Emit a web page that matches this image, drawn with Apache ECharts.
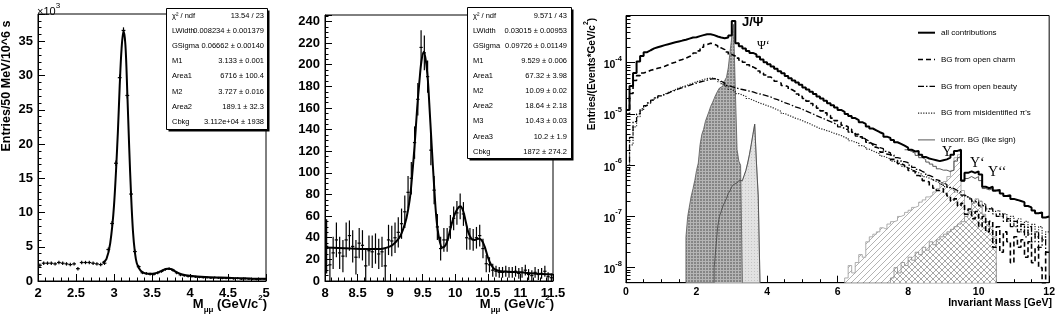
<!DOCTYPE html>
<html>
<head>
<meta charset="utf-8">
<script src="https://cdn.jsdelivr.net/npm/echarts@6.0.0/dist/echarts.min.js"></script>
<style>
html,body{margin:0;padding:0;background:#fff;}
#chart{width:1058px;height:318px;}
</style>
</head>
<body>
<div id="chart"></div>
<script>
// ================= DATA =================
// ---- Panel 1: J/psi region, 50 MeV bins from 2.0 GeV (values in thousands) ----
const p1BinStart = 2.0, p1BinWidth = 0.05;
const p1Counts = [2.3,2.6,2.6,2.6,2.5,2.7,2.6,2.5,2.4,2.5,
  1.8,2.7,2.7,2.7,2.6,2.5,2.4,2.6,4.6,8.4,
  17.2,29.7,36.6,27.1,12.7,4.3,2.1,1.2,1.1,1.0,
  1.0,1.2,1.4,1.7,1.8,1.6,1.2,0.9,0.8,0.7,
  0.65,0.6,0.55,0.5,0.5,0.45,0.5,0.45,0.4,0.4,
  0.4,0.35,0.4,0.3,0.35,0.3,0.3,0.25,0.3,0.3];
const p1Errors = [0.25,0.25,0.25,0.25,0.25,0.25,0.25,0.25,0.25,0.25,
  0.25,0.25,0.25,0.25,0.25,0.25,0.25,0.25,0.3,0.35,
  0.4,0.45,0.45,0.45,0.4,0.3,0.25,0.2,0.2,0.2,
  0.2,0.2,0.2,0.2,0.2,0.2,0.2,0.2,0.18,0.18,
  0.15,0.15,0.15,0.15,0.15,0.15,0.15,0.15,0.15,0.15,
  0.15,0.15,0.15,0.15,0.15,0.15,0.15,0.15,0.15,0.15];
const p1FitMass = [2.85,2.9,2.95,3.0,3.05,3.075,3.1,3.125,3.15,3.175,3.2,3.225,3.25,3.275,3.3,3.35,3.4,3.45,3.5,3.55,3.6,3.65,3.7,3.75,3.8,3.85,3.9,4.0,4.2,4.4,4.6,4.8,5.0];
const p1FitValues = [2.65,3.2,5.5,11.0,21.5,28.5,34.0,36.5,34.5,27.5,19.5,12.5,7.2,4.2,2.6,1.5,1.15,1.05,1.05,1.15,1.35,1.6,1.8,1.75,1.45,1.15,0.95,0.78,0.6,0.5,0.42,0.36,0.32];
const p1Stats = [["χ² / ndf","13.54 / 23"],["LWidth","0.008234 ± 0.001379"],["GSigma","0.06662 ± 0.00140"],["M1","3.133 ± 0.001"],["Area1","6716 ± 100.4"],["M2","3.727 ± 0.016"],["Area2","189.1 ± 32.3"],["Cbkg","3.112e+04 ± 1938"]];

// ---- Panel 2: Upsilon region, 50 MeV bins from 8.0 GeV ----
const p2BinStart = 8.0, p2BinWidth = 0.05;
const p2Counts = [32,15,26,38,26,23,38,42,32,22,
  35,33,14,28,27,30,25,27,14,38,
  37,40,45,53,64,82,95,128,168,216,
  211,189,121,84,50,30,38,38,50,58,
  63,69,62,40,39,38,40,42,30,16,
  15,10,9,8,8,9,8,8,9,7,
  8,10,6,5,8,6,7,9,4,3];
const p2Errors = [25,16,15,16,15,15,16,14,15,16,
  14,14,15,14,15,14,14,14,16,14,
  14,14,14,14,15,15,15,15,15,16,
  16,15,14,13,12,11,11,11,11,11,
  11,12,11,11,10,10,10,10,9,8,
  7,6,5,5,5,5,5,5,5,5,
  5,5,5,5,5,5,5,5,4,4];
const p2FitMass = [8.0,8.2,8.4,8.6,8.8,8.9,9.0,9.05,9.1,9.15,9.2,9.25,9.3,9.33,9.375,9.415,9.45,9.48,9.517,9.55,9.58,9.6,9.635,9.675,9.71,9.75,9.8,9.85,9.9,9.95,10.0,10.05,10.08,10.12,10.16,10.2,10.25,10.3,10.35,10.4,10.45,10.5,10.55,10.6,10.7,10.8,11.0,11.2,11.5];
const p2FitValues = [31,30.5,30,29.5,29.5,30,32,34,37,41,48,58,75,92,125,160,185,203,212,203,185,165,128,88,58,40,31,33,42,54,63,68,69,65,55,45,39,38,39,38,32,22,15,11,9,8.5,8,7,6];
const p2Stats = [["χ² / ndf","9.571 / 43"],["LWidth","0.03015 ± 0.00953"],["GSigma","0.09726 ± 0.01149"],["M1","9.529 ± 0.006"],["Area1","67.32 ± 3.98"],["M2","10.09 ± 0.02"],["Area2","18.64 ± 2.18"],["M3","10.43 ± 0.03"],["Area3","10.2 ± 1.9"],["Cbkg","1872 ± 274.2"]];

// ---- Panel 3: simulated invariant mass spectrum, 100 MeV bins from 0 ----
const p3BinStart = 0, p3BinWidth = 0.1;
const allContributions = [1.2e-5,3.5e-5,6.3e-5,1.05e-4,1.35e-4,1.6e-4,1.75e-4,1.9e-4,2.0e-4,2.1e-4,
  2.2e-4,2.3e-4,2.4e-4,2.5e-4,2.6e-4,2.7e-4,2.8e-4,2.95e-4,3.1e-4,3.15e-4,
  3.3e-4,3.45e-4,3.6e-4,3.6e-4,3.45e-4,3.25e-4,3.1e-4,3.0e-4,3.1e-4,3.4e-4,
  6.5e-4,2.4e-4,2.1e-4,1.9e-4,1.7e-4,1.55e-4,1.45e-4,1.3e-4,1.15e-4,1.02e-4,
  9.3e-5,8.4e-5,7.6e-5,6.8e-5,6.2e-5,5.5e-5,5.0e-5,4.5e-5,4.1e-5,3.7e-5,
  3.3e-5,3.0e-5,2.7e-5,2.45e-5,2.2e-5,2.0e-5,1.8e-5,1.62e-5,1.47e-5,1.33e-5,
  1.2e-5,1.1e-5,1.0e-5,9.1e-6,8.3e-6,7.6e-6,6.9e-6,6.4e-6,5.7e-6,5.2e-6,
  4.8e-6,4.4e-6,4.1e-6,3.6e-6,3.4e-6,3.1e-6,2.8e-6,2.6e-6,2.4e-6,2.2e-6,
  2.0e-6,1.85e-6,1.9e-6,1.6e-6,1.45e-6,1.35e-6,1.3e-6,1.25e-6,1.2e-6,1.25e-6,
  1.3e-6,1.4e-6,1.6e-6,1.9e-6,2.0e-6,5.0e-7,7.1e-7,7.6e-7,7.1e-7,7.6e-7,
  6.6e-7,3.8e-7,3.55e-7,3.8e-7,3.2e-7,3.3e-7,2.8e-7,2.5e-7,2.6e-7,2.2e-7,
  2.1e-7,2.0e-7,1.9e-7,1.6e-7,1.5e-7,1.3e-7,1.15e-7,1.2e-7,9.5e-8,1.0e-7];
const bgOpenCharm = [1.0e-5,2.5e-5,4.5e-5,5.6e-5,6.3e-5,6.6e-5,7.1e-5,7.4e-5,7.8e-5,8.1e-5,
  8.5e-5,9.1e-5,9.8e-5,1.02e-4,1.1e-4,1.15e-4,1.23e-4,1.32e-4,1.41e-4,1.55e-4,
  1.7e-4,2.0e-4,2.25e-4,2.4e-4,2.3e-4,2.15e-4,1.95e-4,1.8e-4,1.62e-4,1.45e-4,
  1.35e-4,1.23e-4,1.12e-4,1.02e-4,9.1e-5,8.3e-5,7.6e-5,6.9e-5,6.3e-5,5.75e-5,
  5.25e-5,4.8e-5,4.35e-5,4.0e-5,3.6e-5,3.4e-5,3.0e-5,2.75e-5,2.45e-5,2.2e-5,
  2.0e-5,1.78e-5,1.6e-5,1.45e-5,1.3e-5,1.15e-5,1.05e-5,9.3e-6,8.3e-6,7.4e-6,
  6.8e-6,6.0e-6,5.6e-6,5.0e-6,4.4e-6,4.0e-6,3.6e-6,3.2e-6,2.8e-6,2.6e-6,
  2.25e-6,2.1e-6,1.8e-6,1.65e-6,1.6e-6,1.3e-6,1.25e-6,1.07e-6,1.0e-6,8.9e-7,
  7.9e-7,7.6e-7,6.3e-7,6.0e-7,5.0e-7,4.7e-7,4.0e-7,3.55e-7,3.2e-7,3.5e-7,
  2.8e-7,2.5e-7,2.0e-7,2.2e-7,1.6e-7,1.8e-7,1.1e-7,1.4e-7,9.0e-8,1.25e-7,
  6.3e-8,1.0e-7,5.0e-8,8.0e-8,2.5e-8,6.3e-8,2.0e-8,5.0e-8,3.2e-8,1.25e-8,
  4.0e-8,2.5e-8,3.5e-8,1.6e-8,3.2e-8,1.25e-8,2.5e-8,1.0e-8,5.0e-9,2.0e-8];
const bgOpenBeauty = [8.0e-7,3.5e-6,7.1e-6,1.0e-5,1.26e-5,1.45e-5,1.65e-5,1.86e-5,2.05e-5,2.25e-5,
  2.4e-5,2.55e-5,2.75e-5,2.9e-5,3.1e-5,3.25e-5,3.4e-5,3.6e-5,3.8e-5,4.0e-5,
  4.2e-5,4.35e-5,4.55e-5,4.8e-5,4.9e-5,4.7e-5,4.35e-5,4.0e-5,3.6e-5,3.4e-5,
  3.25e-5,3.1e-5,3.0e-5,2.9e-5,2.8e-5,2.7e-5,2.55e-5,2.45e-5,2.35e-5,2.25e-5,
  2.15e-5,2.0e-5,1.9e-5,1.78e-5,1.66e-5,1.58e-5,1.48e-5,1.38e-5,1.32e-5,1.23e-5,
  1.15e-5,1.07e-5,1.0e-5,9.3e-6,8.7e-6,8.1e-6,7.6e-6,7.1e-6,6.6e-6,6.2e-6,
  5.6e-6,5.2e-6,4.9e-6,4.4e-6,4.2e-6,3.7e-6,3.5e-6,3.2e-6,2.95e-6,2.6e-6,
  2.5e-6,2.2e-6,2.1e-6,1.86e-6,1.74e-6,1.58e-6,1.41e-6,1.35e-6,1.17e-6,1.12e-6,
  1.0e-6,9.1e-7,8.3e-7,7.6e-7,7.1e-7,6.3e-7,5.9e-7,5.2e-7,5.0e-7,4.5e-7,
  4.2e-7,3.7e-7,3.5e-7,3.2e-7,3.0e-7,2.6e-7,2.5e-7,2.2e-7,2.0e-7,1.86e-7,
  1.6e-7,1.66e-7,1.26e-7,1.4e-7,1.12e-7,1.0e-7,1.12e-7,8.0e-8,9.0e-8,6.3e-8,
  8.0e-8,5.0e-8,7.0e-8,4.0e-8,6.3e-8,3.2e-8,5.0e-8,2.5e-8,4.0e-8,2.0e-8];
const bgMisidPions = [1.0e-6,2.5e-6,5.6e-6,8.9e-6,1.17e-5,1.41e-5,1.62e-5,1.86e-5,2.05e-5,2.25e-5,
  2.45e-5,2.65e-5,2.8e-5,3.0e-5,3.25e-5,3.4e-5,3.55e-5,3.8e-5,4.0e-5,4.25e-5,
  4.45e-5,4.7e-5,4.9e-5,5.0e-5,5.0e-5,4.7e-5,4.25e-5,3.8e-5,3.4e-5,3.0e-5,
  2.75e-5,2.5e-5,2.35e-5,2.2e-5,2.0e-5,1.86e-5,1.74e-5,1.62e-5,1.55e-5,1.45e-5,
  1.38e-5,1.29e-5,1.2e-5,1.12e-5,1.02e-5,9.5e-6,8.9e-6,8.3e-6,7.9e-6,7.4e-6,
  6.9e-6,6.5e-6,6.0e-6,5.6e-6,5.2e-6,5.0e-6,4.7e-6,4.5e-6,4.2e-6,4.0e-6,
  3.8e-6,3.5e-6,3.3e-6,3.0e-6,2.8e-6,2.7e-6,2.4e-6,2.3e-6,2.05e-6,1.9e-6,
  1.78e-6,1.66e-6,1.5e-6,1.41e-6,1.32e-6,1.2e-6,1.12e-6,1.07e-6,9.5e-7,8.9e-7,
  8.3e-7,7.6e-7,7.1e-7,6.6e-7,6.0e-7,5.6e-7,5.2e-7,4.8e-7,4.6e-7,4.2e-7,
  3.8e-7,3.6e-7,3.3e-7,3.0e-7,2.8e-7,2.5e-7,2.4e-7,2.25e-7,1.9e-7,2.0e-7,
  1.66e-7,1.8e-7,1.4e-7,1.5e-7,1.26e-7,1.32e-7,1.0e-7,1.12e-7,8.0e-8,1.0e-7,
  6.3e-8,9.0e-8,5.0e-8,8.0e-8,4.5e-8,7.0e-8,4.0e-8,6.3e-8,3.5e-8,5.0e-8];
const uncorrStart = 7.9;
const uncorrLikeSign = [2.0e-6,1.85e-6,1.7e-6,1.55e-6,1.4e-6,1.3e-6,1.15e-6,1.05e-6,9.5e-7,8.5e-7,
  8.0e-7,8.0e-7,7.5e-7,8.0e-7,1.2e-6,1.4e-6,4.8e-7,5.5e-7,6.0e-7,5.5e-7,
  6.0e-7,5.0e-7,3.5e-7,3.3e-7,3.5e-7,3.1e-7];
const fineBinWidth = 0.05;
const jpsiStart = 1.7;
const jpsiSignal = [4.0e-8,1.0e-7,1.6e-7,2.5e-7,3.5e-7,5.0e-7,7.9e-7,1.1e-6,2.5e-6,4.0e-6,
  5.0e-6,7.1e-6,8.9e-6,1.1e-5,1.4e-5,1.65e-5,2.0e-5,2.4e-5,2.8e-5,3.2e-5,
  3.5e-5,4.0e-5,4.5e-5,5.2e-5,7.9e-5,1.6e-4,3.2e-4,5.6e-4,3.0e-5,2.0e-6,
  1.2e-6,1.0e-6];
const psi2Start = 2.5;
const psi2Signal = [1.0e-8,2.5e-8,6.3e-8,1.0e-7,1.26e-7,1.6e-7,1.9e-7,2.25e-7,2.8e-7,3.2e-7,
  3.8e-7,4.2e-7,4.5e-7,4.8e-7,5.0e-7,5.0e-7,5.2e-7,6.3e-7,7.9e-7,1.1e-6,
  1.6e-6,2.5e-6,4.0e-6,6.3e-6,1.1e-6,2.5e-7];
const ups1Start = 6.2;
const ups1Signal = [6.3e-9,1.1e-8,7.9e-9,1.26e-8,1.8e-8,1.6e-8,3.2e-8,4.0e-8,4.5e-8,5.0e-8,
  6.0e-8,5.6e-8,7.1e-8,7.9e-8,8.3e-8,1.0e-7,1.07e-7,1.2e-7,1.32e-7,1.5e-7,
  1.6e-7,1.9e-7,2.1e-7,2.4e-7,2.6e-7,3.0e-7,3.5e-7,4.2e-7,4.8e-7,6.0e-7,
  7.9e-7,1.4e-6,1.6e-6,3.2e-7,1.0e-7,6.3e-8,5.0e-8,4.0e-8,3.2e-8,2.5e-8,
  2.0e-8,1.6e-8,1.26e-8];
const ups23Start = 7.5;
const ups23Signal = [6.3e-9,1.0e-8,7.9e-9,1.26e-8,1.1e-8,1.6e-8,1.4e-8,2.0e-8,1.8e-8,2.5e-8,
  2.2e-8,3.2e-8,2.8e-8,3.5e-8,4.0e-8,4.5e-8,5.0e-8,5.6e-8,6.3e-8,7.1e-8,
  7.9e-8,1.0e-7,1.26e-7,1.8e-7,2.2e-7,2.0e-7,1.1e-7,7.9e-8,6.3e-8,4.0e-8];
const p3Decades = [1e-8,1e-7,1e-6,1e-5,1e-4];
const p3LegendLabels = ["all contributions","BG from open charm","BG from open beauty","BG from misidentified π's","uncorr. BG (like sign)"];

// ================= LAYOUT / STYLE =================
const SANS = '"Liberation Sans", Arial, Helvetica, sans-serif';
const SERIF = '"Liberation Serif", "Times New Roman", serif';
const Y3MIN = 5.09e-9, Y3MAX = 8.34e-4;

function centers(start, width, n) { const a = []; for (let i = 0; i < n; i++) a.push(+(start + (i + 0.5) * width).toFixed(5)); return a; }
function histPoints(start, width, values, drop) {
  const pts = [];
  if (drop) pts.push([start, Y3MIN]);
  values.forEach((v, i) => pts.push([+(start + i * width).toFixed(5), v]));
  const end = +(start + values.length * width).toFixed(5);
  pts.push([end, values[values.length - 1]]);
  if (drop) pts.push([end, Y3MIN]);
  return pts;
}
function makePattern(w, h, draw) {
  const c = document.createElement('canvas'); c.width = w; c.height = h;
  const g = c.getContext('2d'); draw(g); return c;
}
const jpsiPattern = makePattern(3, 3, g => { g.fillStyle = '#858585'; g.fillRect(0,0,3,3); g.fillStyle = '#b5b5b5'; g.fillRect(0,0,3,1); g.fillRect(0,0,1,3); });
const psi2Pattern = makePattern(3, 3, g => { g.fillStyle = '#e2e2e2'; g.fillRect(0,0,3,3); g.fillStyle = '#c4c4c4'; g.fillRect(1,1,1,1); });
const diagPattern = makePattern(6, 6, g => { g.fillStyle = '#fff'; g.fillRect(0,0,6,6); g.strokeStyle = '#a0a0a0'; g.lineWidth = 0.8; g.beginPath(); g.moveTo(0,6); g.lineTo(6,0); g.moveTo(-1,1); g.lineTo(1,-1); g.moveTo(5,7); g.lineTo(7,5); g.stroke(); });
const crossPattern = makePattern(6, 6, g => { g.fillStyle = '#fff'; g.fillRect(0,0,6,6); g.strokeStyle = '#909090'; g.lineWidth = 0.8; g.beginPath(); g.moveTo(0,6); g.lineTo(6,0); g.moveTo(-1,1); g.lineTo(1,-1); g.moveTo(5,7); g.lineTo(7,5); g.moveTo(0,0); g.lineTo(6,6); g.moveTo(-1,5); g.lineTo(1,7); g.moveTo(5,-1); g.lineTo(7,1); g.stroke(); });

function errorBars(params, api) {
  const x = api.value(0), y = api.value(1), e = api.value(2), hw = api.value(3);
  const c = api.coord([x, y]), t = api.coord([x, y + e]), b = api.coord([x, y - e]);
  const l = api.coord([x - hw, y]), r = api.coord([x + hw, y]);
  const st = { stroke: '#000', lineWidth: 1.2 };
  return { type: 'group', children: [
    { type: 'line', shape: { x1: l[0], y1: c[1], x2: r[0], y2: c[1] }, style: st },
    { type: 'line', shape: { x1: c[0], y1: t[1], x2: c[0], y2: b[1] }, style: st }
  ]};
}

const p1Mass = centers(p1BinStart, p1BinWidth, p1Counts.length);
const p2Mass = centers(p2BinStart, p2BinWidth, p2Counts.length);

const minorDecadeTicks = [];
for (let e = -9; e <= -4; e++) for (let k = 2; k <= 9; k++) { const v = k * Math.pow(10, e); if (v > Y3MIN && v < Y3MAX) minorDecadeTicks.push(v); }

const black = '#000';
const axisLineStyle = { show: true, lineStyle: { color: black, width: 1 } };
const bigLabel = { color: black, fontFamily: SANS, fontWeight: 'bold', fontSize: 13 };

const option = {
  animation: false,
  backgroundColor: '#fff',
  grid: [
    { left: 38, top: 14, width: 228, height: 267, show: true, borderColor: black, borderWidth: 1 },
    { left: 325, top: 15, width: 228, height: 266, show: true, borderColor: black, borderWidth: 1 },
    { left: 626, top: 15.5, width: 425, height: 267.2, show: true, borderColor: black, borderWidth: 1 }
  ],
  xAxis: [
    { type: 'value', gridIndex: 0, min: 2, max: 5, interval: 0.5, axisLine: axisLineStyle,
      axisTick: { inside: true, length: 7, lineStyle: { color: black } },
      minorTick: { show: true, splitNumber: 5, length: 3.5, lineStyle: { color: black } },
      axisLabel: Object.assign({ margin: 6 }, bigLabel), splitLine: { show: false } },
    { type: 'value', gridIndex: 1, min: 8, max: 11.5, interval: 0.5, axisLine: axisLineStyle,
      axisTick: { inside: true, length: 7, lineStyle: { color: black } },
      minorTick: { show: true, splitNumber: 5, length: 3.5, lineStyle: { color: black } },
      axisLabel: Object.assign({ margin: 6 }, bigLabel), splitLine: { show: false } },
    { type: 'value', gridIndex: 2, min: 0, max: 12, interval: 2, axisLine: axisLineStyle,
      axisTick: { inside: true, length: 7, lineStyle: { color: black } },
      minorTick: { show: true, splitNumber: 4, length: 3.5, lineStyle: { color: black } },
      axisLabel: { margin: 4, color: black, fontFamily: SANS, fontWeight: 'bold', fontSize: 10.5 }, splitLine: { show: false } }
  ],
  yAxis: [
    { type: 'value', gridIndex: 0, min: 0, max: 39, interval: 5, axisLine: axisLineStyle,
      axisTick: { inside: true, length: 7, lineStyle: { color: black } },
      minorTick: { show: true, splitNumber: 5, length: 3.5, lineStyle: { color: black } },
      axisLabel: Object.assign({ margin: 5, showMaxLabel: false, formatter: v => (v % 5 === 0 ? String(v) : '') }, bigLabel), splitLine: { show: false } },
    { type: 'value', gridIndex: 1, min: 0, max: 246, interval: 20, axisLine: axisLineStyle,
      axisTick: { inside: true, length: 7, lineStyle: { color: black } },
      minorTick: { show: true, splitNumber: 4, length: 3.5, lineStyle: { color: black } },
      axisLabel: Object.assign({ margin: 5, showMaxLabel: false, formatter: v => (v % 20 === 0 ? String(v) : '') }, bigLabel), splitLine: { show: false } },
    { type: 'log', logBase: 10, gridIndex: 2, min: Y3MIN, max: Y3MAX, position: 'left', axisLine: axisLineStyle,
      axisTick: { inside: true, length: 9, customValues: p3Decades, lineStyle: { color: black } },
      axisLabel: { customValues: p3Decades, margin: 4,
        formatter: v => '{b|10}{s|' + Math.round(Math.log10(v)) + '}',
        rich: { b: { fontFamily: SANS, fontWeight: 'bold', fontSize: 10.5, color: black, lineHeight: 16, verticalAlign: 'bottom' },
                s: { fontFamily: SANS, fontWeight: 'bold', fontSize: 7.5, color: black, lineHeight: 16, verticalAlign: 'top' } } },
      splitLine: { show: false }, minorTick: { show: false } },
    { type: 'log', logBase: 10, gridIndex: 2, min: Y3MIN, max: Y3MAX, position: 'left', axisLine: { show: false },
      axisTick: { inside: true, length: 4.5, customValues: minorDecadeTicks, lineStyle: { color: black } },
      axisLabel: { show: false }, splitLine: { show: false } }
  ],
  series: [
    // Panel 1
    { type: 'custom', xAxisIndex: 0, yAxisIndex: 0, clip: true, renderItem: errorBars, silent: true,
      data: p1Mass.map((x, i) => [x, p1Counts[i], p1Errors[i], p1BinWidth / 2]) },
    { type: 'line', xAxisIndex: 0, yAxisIndex: 0, smooth: 0.35, showSymbol: false, symbol: 'none', silent: true,
      lineStyle: { color: black, width: 2 }, data: p1FitMass.map((x, i) => [x, p1FitValues[i]]) },
    // Panel 2
    { type: 'custom', xAxisIndex: 1, yAxisIndex: 1, clip: true, renderItem: errorBars, silent: true,
      data: p2Mass.map((x, i) => [x, p2Counts[i], p2Errors[i], p2BinWidth / 2]) },
    { type: 'line', xAxisIndex: 1, yAxisIndex: 1, smooth: 0.35, showSymbol: false, symbol: 'none', silent: true,
      lineStyle: { color: black, width: 2 }, data: p2FitMass.map((x, i) => [x, p2FitValues[i]]) },
    // Panel 3 signal histograms
    { name: 'psi2fill', type: 'line', xAxisIndex: 2, yAxisIndex: 2, step: 'end', showSymbol: false, symbol: 'none', silent: true, z: 1,
      lineStyle: { width: 0.8, color: '#8a8a8a' }, areaStyle: { origin: 'start', opacity: 1, color: { image: psi2Pattern, repeat: 'repeat' } },
      data: histPoints(psi2Start, fineBinWidth, psi2Signal, true) },
    { name: 'jpsi', type: 'line', xAxisIndex: 2, yAxisIndex: 2, step: 'end', showSymbol: false, symbol: 'none', silent: true, z: 2,
      lineStyle: { width: 0.8, color: '#555' }, areaStyle: { origin: 'start', opacity: 1, color: { image: jpsiPattern, repeat: 'repeat' } },
      data: histPoints(jpsiStart, fineBinWidth, jpsiSignal, true) },
    { name: 'psi2line', type: 'line', xAxisIndex: 2, yAxisIndex: 2, step: 'end', showSymbol: false, symbol: 'none', silent: true, z: 3,
      lineStyle: { width: 0.8, color: '#444' }, data: histPoints(psi2Start, fineBinWidth, psi2Signal, true) },
    { name: 'ups1', type: 'line', xAxisIndex: 2, yAxisIndex: 2, step: 'end', showSymbol: false, symbol: 'none', silent: true, z: 1,
      lineStyle: { width: 0.8, color: '#999' }, areaStyle: { origin: 'start', opacity: 1, color: { image: diagPattern, repeat: 'repeat' } },
      data: histPoints(ups1Start, p3BinWidth, ups1Signal, true) },
    { name: 'ups23', type: 'line', xAxisIndex: 2, yAxisIndex: 2, step: 'end', showSymbol: false, symbol: 'none', silent: true, z: 2,
      lineStyle: { width: 0.8, color: '#888' }, areaStyle: { origin: 'start', opacity: 1, color: { image: crossPattern, repeat: 'repeat' } },
      data: histPoints(ups23Start, p3BinWidth, ups23Signal, true) },
    // Panel 3 backgrounds
    { name: p3LegendLabels[3], type: 'line', xAxisIndex: 2, yAxisIndex: 2, step: 'end', showSymbol: false, symbol: 'none', silent: true, z: 4,
      lineStyle: { width: 1.2, color: '#222', type: [1.2, 1.4] }, data: histPoints(p3BinStart, p3BinWidth, bgMisidPions, false) },
    { name: p3LegendLabels[2], type: 'line', xAxisIndex: 2, yAxisIndex: 2, step: 'end', showSymbol: false, symbol: 'none', silent: true, z: 4,
      lineStyle: { width: 1.3, color: black, type: [6, 2, 1.5, 2] }, data: histPoints(p3BinStart, p3BinWidth, bgOpenBeauty, false) },
    { name: p3LegendLabels[1], type: 'line', xAxisIndex: 2, yAxisIndex: 2, step: 'end', showSymbol: false, symbol: 'none', silent: true, z: 4,
      lineStyle: { width: 1.6, color: black, type: [5, 3] }, data: histPoints(p3BinStart, p3BinWidth, bgOpenCharm, false) },
    { name: p3LegendLabels[4], type: 'line', xAxisIndex: 2, yAxisIndex: 2, step: 'end', showSymbol: false, symbol: 'none', silent: true, z: 5,
      lineStyle: { width: 0.9, color: '#444' }, data: histPoints(uncorrStart, p3BinWidth, uncorrLikeSign, false) },
    { name: p3LegendLabels[0], type: 'line', xAxisIndex: 2, yAxisIndex: 2, step: 'end', showSymbol: false, symbol: 'none', silent: true, z: 6,
      lineStyle: { width: 2, color: black }, data: histPoints(p3BinStart, p3BinWidth, allContributions, false) }
  ],
  graphic: []
};

// ---- text & decorations ----
const G = option.graphic;
function statsBox(x, y, w, h, rows, firstY, dy, labelX, valueX) {
  G.push({ type: 'rect', shape: { x: x + 2, y: y + 2, width: w, height: h }, style: { fill: black }, z: 100 });
  G.push({ type: 'rect', shape: { x: x, y: y, width: w, height: h }, style: { fill: '#fff', stroke: black, lineWidth: 1 }, z: 101 });
  rows.forEach((r, i) => {
    G.push({ type: 'text', x: labelX, y: firstY + i * dy, z: 102, style: { text: r[0], fontFamily: SANS, fontSize: 7.5, fill: black, align: 'left', verticalAlign: 'middle' } });
    G.push({ type: 'text', x: valueX, y: firstY + i * dy, z: 102, style: { text: r[1], fontFamily: SANS, fontSize: 7.5, fill: black, align: 'right', verticalAlign: 'middle' } });
  });
}
statsBox(166.5, 8.5, 101, 121, p1Stats, 16, 15.1, 172, 264);
statsBox(467.5, 7.5, 104, 151, p2Stats, 15.7, 15.1, 473, 567);

// x10^3
G.push({ type: 'text', x: 37, y: 2, style: { text: '{a|×10}{b|3}', rich: { a: { fontFamily: SANS, fontSize: 11, fill: black, lineHeight: 15, verticalAlign: 'bottom' }, b: { fontFamily: SANS, fontSize: 8, fill: black, lineHeight: 15, verticalAlign: 'top' } } } });
// axis titles
G.push({ type: 'text', x: 7, y: 86, rotation: Math.PI / 2, style: { text: 'Entries/50 MeV/10^6 s', fontFamily: SANS, fontWeight: 'bold', fontSize: 12.5, fill: black, align: 'center', verticalAlign: 'middle' } });
const mTitle = '{m|M}{u|μμ}{m| (GeV/c}{s|2}{m|)}';
const mRich = { m: { fontFamily: SANS, fontWeight: 'bold', fontSize: 13, fill: black, lineHeight: 20, verticalAlign: 'middle' },
                u: { fontFamily: SANS, fontWeight: 'bold', fontSize: 8, fill: black, lineHeight: 20, verticalAlign: 'bottom' },
                s: { fontFamily: SANS, fontWeight: 'bold', fontSize: 8, fill: black, lineHeight: 20, verticalAlign: 'top' } };
G.push({ type: 'text', x: 267, y: 304, style: { text: mTitle, rich: mRich, align: 'right', verticalAlign: 'middle' } });
G.push({ type: 'text', x: 554, y: 304, style: { text: mTitle, rich: mRich, align: 'right', verticalAlign: 'middle' } });
G.push({ type: 'text', x: 590, y: 74, rotation: Math.PI / 2, style: { text: '{m|Entries/(Events*GeV/c}{s|2}{m|)}',
  rich: { m: { fontFamily: SANS, fontWeight: 'bold', fontSize: 10, fill: black, lineHeight: 14, verticalAlign: 'bottom' }, s: { fontFamily: SANS, fontWeight: 'bold', fontSize: 7, fill: black, lineHeight: 14, verticalAlign: 'top' } },
  align: 'center', verticalAlign: 'middle' } });
G.push({ type: 'text', x: 1052, y: 303, style: { text: 'Invariant Mass [GeV]', fontFamily: SANS, fontWeight: 'bold', fontSize: 10.5, fill: black, align: 'right', verticalAlign: 'middle' } });
// resonance labels
G.push({ type: 'text', x: 742, y: 22, z: 50, style: { text: 'J/Ψ', fontFamily: SANS, fontWeight: 'bold', fontSize: 13, fill: black, align: 'left', verticalAlign: 'middle' } });
G.push({ type: 'text', x: 757, y: 46, z: 50, style: { text: 'Ψ‘', fontFamily: SERIF, fontSize: 12, fill: black, align: 'left', verticalAlign: 'middle' } });
G.push({ type: 'text', x: 942, y: 152, z: 50, style: { text: 'Υ', fontFamily: SERIF, fontSize: 14, fill: black, align: 'left', verticalAlign: 'middle' } });
G.push({ type: 'text', x: 970, y: 163, z: 50, style: { text: 'Υ‘', fontFamily: SERIF, fontSize: 14, fill: black, align: 'left', verticalAlign: 'middle' } });
G.push({ type: 'text', x: 988, y: 172, z: 50, style: { text: 'Υ‘‘', fontFamily: SERIF, fontSize: 14, fill: black, align: 'left', verticalAlign: 'middle' } });
// legend (panel 3)
const legendStyles = [
  { stroke: black, lineWidth: 2 },
  { stroke: black, lineWidth: 1.6, lineDash: [5, 3] },
  { stroke: black, lineWidth: 1.3, lineDash: [6, 2, 1.5, 2] },
  { stroke: '#222', lineWidth: 1.2, lineDash: [1.2, 1.4] },
  { stroke: '#444', lineWidth: 0.9 }
];
p3LegendLabels.forEach((lab, i) => {
  const yy = 32.7 + i * 26.8;
  G.push({ type: 'line', z: 60, shape: { x1: 918, y1: yy, x2: 935, y2: yy }, style: legendStyles[i] });
  G.push({ type: 'text', x: 941, y: yy, z: 60, style: { text: lab, fontFamily: SANS, fontSize: 8, fill: black, align: 'left', verticalAlign: 'middle' } });
});

const chart = echarts.init(document.getElementById('chart'), null, { renderer: 'canvas' });
chart.setOption(option);
</script>
</body>
</html>
